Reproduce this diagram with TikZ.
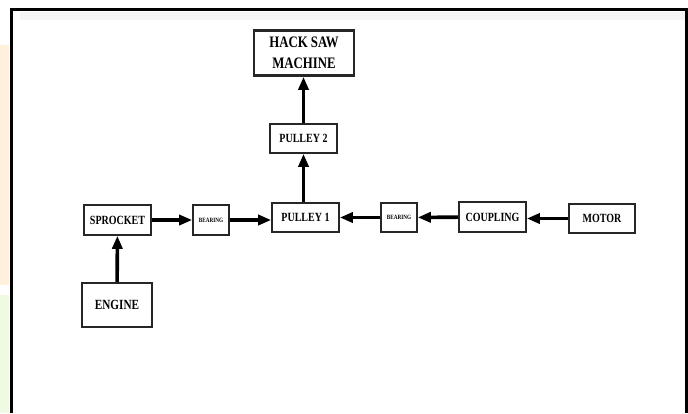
\documentclass[tikz,border=0pt]{standalone}
\usepackage{fontspec}
\newfontfamily\blkfont[FakeStretch=0.8]{Liberation Serif}
\usetikzlibrary{arrows.meta}
\definecolor{washorange}{RGB}{255,240,222}
\definecolor{washgreen}{RGB}{240,250,226}
\tikzset{blk/.style={draw=black!85,line width=1.6pt,inner sep=0pt,align=center,
   font=\blkfont\bfseries\fontsize{12.5}{14}\selectfont},
 small/.style={font=\blkfont\bfseries\fontsize{6.5}{7}\selectfont},
 flow/.style={line width=3.6pt,-{Triangle[length=13pt,width=10pt]}},
 }

\begin{document}
\begin{tikzpicture}[x=1pt,y=-1pt]
        \useasboundingbox (0,0) rectangle (688,413);
        \fill[white] (0,0) rectangle (688,413);
        % faint tint left of the frame
        \fill[washorange] (0,45) rectangle (9,285);
        \fill[washgreen] (0,295) rectangle (9,413);
        \fill[black!4] (20,12) rectangle (685,20);
        % frame
        \draw[line width=3pt] (11,413) -- (11,9.5) -- (686.5,9.5) -- (686.5,413);

        \node[blk,line width=2.6pt,minimum width=100pt,minimum height=45pt,
              font=\blkfont\bfseries\fontsize{16}{21}\selectfont] (hacksaw) at (304,53) {HACK SAW\\MACHINE};
        \node[blk,minimum width=67pt,minimum height=29pt] (pulleytwo) at (303.5,138.5) {PULLEY 2};
        \node[blk,minimum width=67pt,minimum height=30pt] (sprocket) at (117.5,220) {SPROCKET};
        \node[blk,small,minimum width=36pt,minimum height=30pt] (bearingone) at (211,220) {BEARING};
        \node[blk,minimum width=67pt,minimum height=29pt] (pulleyone) at (305.5,217.5) {PULLEY 1};
        \node[blk,small,minimum width=36pt,minimum height=29pt] (bearingtwo) at (399,217.5) {BEARING};
        \node[blk,minimum width=67pt,minimum height=30pt] (coupling) at (492.5,217) {COUPLING};
        \node[blk,minimum width=66pt,minimum height=29pt] (motor) at (602,218.5) {MOTOR};
        \node[blk,line width=2pt,minimum width=70pt,minimum height=44pt,
              font=\blkfont\bfseries\fontsize{14}{16}\selectfont] (engine) at (117,305) {ENGINE};

        \draw[flow] (engine) -- (sprocket);
        \draw[flow] (sprocket) -- (bearingone);
        \draw[flow] (bearingone) -- (pulleyone.west |- bearingone);
        \draw[flow] (bearingtwo) -- (pulleyone);
        \draw[flow] (coupling) -- (bearingtwo);
        \draw[flow] (motor) -- (coupling.east |- motor);
        \draw[flow] (pulleytwo |- pulleyone.north) -- (pulleytwo);
        \draw[flow] (pulleytwo) -- (pulleytwo |- hacksaw.south);
    \end{tikzpicture}
\end{document}
